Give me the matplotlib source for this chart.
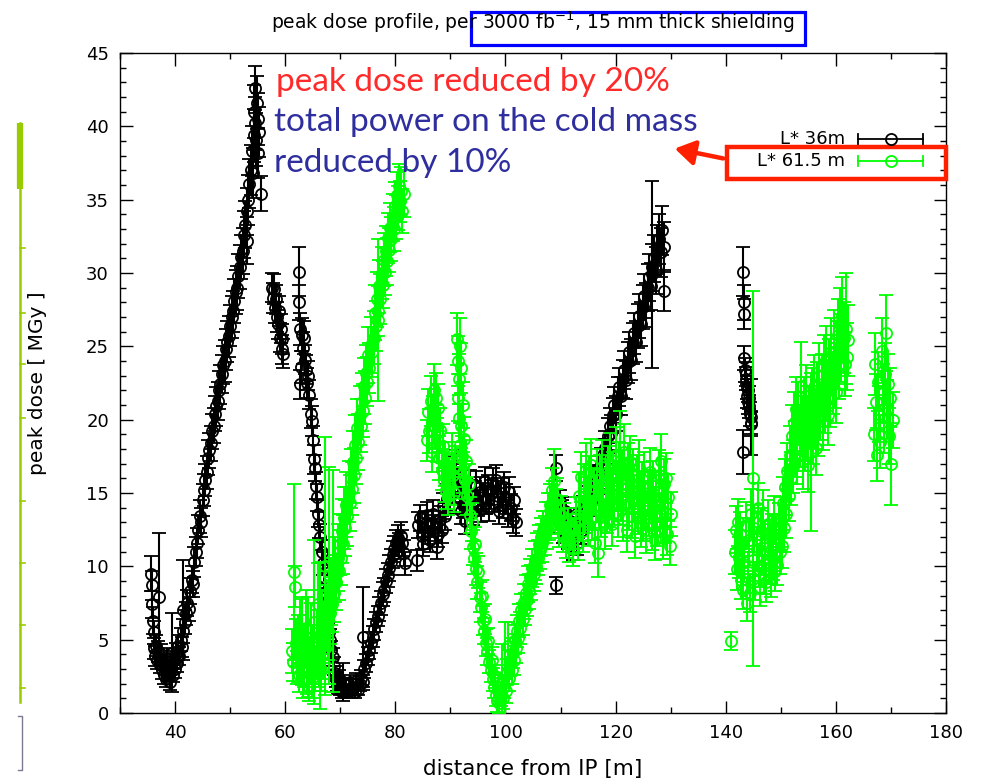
import numpy as np
import matplotlib
matplotlib.use("Agg")
import matplotlib.pyplot as plt
from matplotlib.patches import Rectangle, FancyArrowPatch

# peak dose values: (distance [m], dose [MGy], error)
l36_data = [
    # first rise to the triplet peak
    (35.7, 9.5, 1.2), (35.8, 8.7, 1.0), (35.9, 7.4, 0.9), (36.0, 6.3, 0.9), (36.1, 5.5, 0.8),
    (36.2, 4.4, 0.7), (36.3, 3.9, 0.7), (36.5, 4.6, 0.7), (36.7, 3.6, 0.6), (36.9, 4.2, 0.7),
    (37.1, 7.9, 4.4), (37.2, 3.3, 0.6), (37.4, 4.0, 0.7), (37.6, 2.9, 0.6), (37.8, 3.5, 0.6),
    (38.0, 2.6, 0.6), (38.2, 3.2, 0.6), (38.4, 2.3, 0.5), (38.6, 3.7, 0.7), (38.8, 2.8, 0.6),
    (39.0, 2.1, 0.5), (39.2, 3.3, 0.6), (39.4, 4.1, 2.7), (39.6, 2.6, 0.5), (39.8, 3.6, 0.6),
    (40.0, 3.0, 0.6), (40.2, 4.1, 0.7), (40.4, 3.4, 0.6), (40.6, 4.6, 0.7), (40.8, 3.9, 0.6),
    (41.0, 5.0, 0.8), (41.2, 4.5, 0.7), (41.4, 7.0, 3.4), (41.5, 5.6, 0.8), (41.75, 6.2, 0.8),
    (42.0, 6.8, 0.8), (42.25, 7.5, 0.9), (42.5, 7.1, 0.8), (42.75, 8.3, 0.9), (43.0, 9.1, 0.9),
    (43.25, 8.8, 0.9), (43.5, 10.3, 1.0), (43.75, 11.0, 1.0), (44.0, 11.6, 1.0), (44.25, 12.5, 1.0),
    (44.5, 13.4, 1.1), (44.75, 13.0, 1.0), (45.0, 14.5, 1.1), (45.25, 15.2, 1.1), (45.5, 15.9, 1.1),
    (45.75, 16.4, 1.1), (46.0, 17.4, 1.2), (46.25, 17.9, 1.2), (46.5, 18.4, 1.2), (46.75, 19.2, 1.2),
    (47.0, 19.6, 1.2), (47.25, 20.4, 1.2), (47.5, 20.9, 1.3), (47.75, 21.3, 1.3), (48.0, 22.0, 1.3),
    (48.25, 22.4, 1.3), (48.5, 23.1, 1.3), (48.75, 23.7, 1.3), (49.0, 24.0, 1.4), (49.25, 24.8, 1.4),
    (49.5, 25.3, 1.4), (49.75, 25.7, 1.4), (50.0, 26.4, 1.4), (50.25, 27.0, 1.4), (50.5, 27.4, 1.4),
    (50.75, 28.1, 1.5), (51.0, 28.7, 1.5), (51.25, 29.0, 1.5), (51.5, 29.8, 1.5), (51.75, 30.4, 1.5),
    (52.0, 31.1, 1.5), (52.25, 31.5, 1.6), (52.5, 32.6, 1.6), (52.75, 33.3, 1.6), (53.0, 32.2, 1.6),
    (53.0, 34.2, 1.6), (53.25, 35.0, 1.7), (53.5, 36.1, 1.7), (53.75, 37.0, 1.7), (54.0, 38.3, 1.7),
    (54.1, 36.8, 1.7), (54.25, 39.4, 1.8), (54.4, 41.0, 1.8), (54.5, 40.2, 1.8), (54.6, 42.6, 1.5),
    (54.75, 39.1, 1.8), (54.9, 41.6, 1.8), (55.0, 38.2, 1.7), (55.1, 40.5, 1.8), (55.25, 39.6, 1.7),
    (55.6, 35.4, 1.2),
    # short piece after the first gap
    (57.6, 29.0, 1.0), (57.8, 28.3, 1.0), (58.0, 28.9, 1.0), (58.1, 27.6, 1.0), (58.3, 28.2, 1.0),
    (58.5, 27.0, 1.0), (58.7, 26.5, 1.0), (58.9, 27.4, 1.0), (59.0, 25.6, 1.0), (59.2, 26.2, 1.0),
    (59.4, 24.8, 1.0), (59.5, 25.5, 1.0), (59.6, 24.5, 1.0),
    # falling edge
    (62.5, 30.1, 1.7), (62.5, 28.0, 1.2), (62.6, 26.2, 1.1), (62.8, 23.6, 1.1), (62.7, 22.4, 1.0),
    (63.0, 25.8, 1.1), (63.2, 24.9, 1.1), (63.4, 25.6, 1.1), (63.6, 24.1, 1.0), (63.8, 23.4, 1.0),
    (64.0, 22.5, 1.0), (64.2, 23.0, 1.0), (64.4, 21.7, 1.0), (64.6, 20.4, 1.0), (64.8, 19.9, 1.0),
    (65.0, 18.6, 1.0), (65.2, 17.3, 1.0), (65.4, 16.7, 0.9), (65.6, 15.5, 0.9), (65.8, 14.7, 0.9),
    (66.0, 13.6, 0.9), (66.2, 12.8, 0.9), (66.4, 12.0, 0.9), (66.6, 11.0, 0.8), (66.8, 10.2, 0.8),
    (67.0, 9.3, 0.8), (67.2, 8.6, 0.8), (67.4, 7.6, 0.8), (67.6, 7.0, 0.7), (67.8, 6.2, 0.7),
    (68.0, 5.5, 0.7), (68.2, 5.0, 0.7), (68.4, 4.3, 0.6), (68.6, 3.8, 0.6), (68.8, 3.2, 0.6),
    (69.0, 2.7, 0.5), (69.2, 2.3, 0.5), (69.4, 2.0, 0.5), (69.6, 1.8, 0.5), (69.8, 2.4, 0.5),
    (70.0, 1.6, 0.4), (70.3, 1.4, 0.4), (70.5, 2.1, 1.3), (70.8, 1.5, 0.4), (71.1, 1.9, 0.5),
    (71.4, 1.4, 0.4), (71.7, 2.1, 0.5), (72.0, 1.6, 0.4), (72.3, 1.8, 0.5), (72.6, 1.4, 0.4),
    (72.9, 2.2, 0.5), (73.2, 1.6, 0.4), (73.5, 2.0, 0.5), (74.1, 5.2, 3.4),
    # second rise
    (73.8, 2.4, 0.5), (74.1, 2.1, 0.5), (74.4, 3.0, 0.6), (74.7, 3.4, 0.6), (75.0, 3.9, 0.6),
    (75.3, 4.3, 0.6), (75.6, 4.8, 0.7), (75.9, 5.2, 0.7), (76.2, 5.7, 0.7), (76.5, 6.2, 0.7),
    (76.8, 6.6, 0.7), (77.1, 7.1, 0.8), (77.4, 7.5, 0.8), (77.7, 8.1, 0.8), (78.0, 8.4, 0.8),
    (78.3, 9.0, 0.8), (78.6, 9.4, 0.8), (78.9, 9.9, 0.9), (79.2, 10.3, 0.9), (79.5, 10.8, 0.9),
    (79.8, 11.2, 0.9), (80.1, 11.6, 0.9), (80.4, 11.9, 0.9), (80.7, 11.4, 0.9), (81.0, 12.1, 0.9),
    (81.3, 11.6, 0.9), (81.6, 10.9, 0.9), (81.8, 10.2, 0.8),
    # plateau around the corrector region
    (84.0, 10.4, 0.7), (84.2, 12.8, 0.9), (84.5, 13.3, 0.9), (84.8, 12.1, 0.9), (85.1, 11.5, 0.8),
    (85.4, 12.9, 0.9), (85.7, 13.5, 0.9), (86.0, 12.4, 0.9), (86.3, 11.8, 0.8), (86.6, 12.9, 0.9),
    (86.9, 13.6, 0.9), (87.2, 12.6, 0.9), (87.5, 11.3, 0.8), (87.8, 12.2, 0.9), (88.1, 13.2, 0.9),
    (88.4, 12.5, 0.9), (88.7, 14.1, 0.9), (89.0, 13.4, 0.9), (89.3, 14.6, 1.0), (89.6, 15.3, 1.0),
    (89.9, 14.8, 1.0), (90.2, 16.0, 1.0), (90.5, 16.5, 1.0), (90.8, 15.4, 1.0), (91.1, 16.9, 1.0),
    (91.4, 15.8, 1.0), (91.7, 14.6, 1.0), (92.0, 13.8, 0.9),
    (92.3, 14.2, 0.9), (92.6, 13.1, 0.9), (92.9, 15.0, 1.0), (93.2, 14.4, 0.9), (93.5, 15.6, 1.0),
    (93.8, 14.9, 1.0), (94.1, 13.7, 0.9), (94.4, 14.8, 1.0), (94.7, 15.5, 1.0), (95.0, 14.3, 0.9),
    (95.3, 15.1, 1.0), (95.6, 13.9, 0.9), (95.9, 14.7, 1.0), (96.2, 15.8, 1.0), (96.5, 14.5, 0.9),
    (96.8, 15.2, 1.0), (97.1, 14.0, 0.9), (97.4, 14.9, 1.0), (97.7, 15.7, 1.0), (98.0, 14.6, 0.9),
    (98.3, 15.9, 1.0), (98.6, 14.8, 1.0), (98.9, 13.8, 0.9), (99.2, 15.0, 1.0), (99.5, 14.2, 0.9),
    (99.8, 15.4, 1.0), (100.1, 14.6, 1.0), (100.4, 13.6, 0.9), (100.7, 15.1, 1.0), (101.0, 14.0, 0.9),
    (101.3, 13.2, 0.9), (101.6, 14.5, 0.9), (101.9, 13.0, 0.9),
    (109.1, 16.7, 0.9), (109.1, 8.7, 0.6),
    (109.6, 13.2, 0.9), (109.9, 14.3, 0.9), (110.2, 13.6, 0.9), (110.5, 12.5, 0.9), (110.8, 13.8, 0.9),
    (111.1, 12.9, 0.9), (111.4, 12.0, 0.8), (111.7, 13.1, 0.9), (112.0, 11.8, 0.8), (112.3, 11.2, 0.8),
    (112.6, 12.3, 0.8), (112.9, 11.6, 0.8), (113.2, 12.8, 0.9),
    # rise towards the D1 end
    (113.5, 13.0, 0.9), (113.8, 12.4, 0.9), (114.1, 13.9, 0.9), (114.4, 13.2, 0.9), (114.7, 14.5, 1.0),
    (115.0, 13.8, 0.9), (115.3, 15.1, 1.0), (115.6, 14.4, 1.0), (115.9, 15.9, 1.0), (116.2, 15.2, 1.0),
    (116.5, 15.8, 1.0), (116.8, 16.4, 1.1), (117.1, 15.9, 1.0), (117.4, 17.0, 1.1), (117.7, 17.6, 1.1),
    (118.0, 18.1, 1.1), (118.3, 17.6, 1.1), (118.6, 18.9, 1.2), (118.9, 19.6, 1.2), (119.2, 19.1, 1.2),
    (119.5, 20.3, 1.2), (119.8, 21.0, 1.2), (120.1, 20.4, 1.2), (120.4, 21.6, 1.3), (120.7, 22.2, 1.3),
    (121.0, 21.6, 1.3), (121.3, 22.8, 1.3), (121.6, 23.4, 1.3), (121.9, 22.7, 1.3), (122.2, 23.9, 1.4),
    (122.5, 24.6, 1.4), (122.8, 24.1, 1.4), (123.1, 25.2, 1.4), (123.4, 25.9, 1.4), (123.7, 25.3, 1.4),
    (124.0, 26.4, 1.5), (124.3, 27.1, 1.5), (124.6, 26.5, 1.5), (124.9, 27.7, 1.5), (125.2, 28.4, 1.5),
    (125.5, 27.8, 1.5), (125.8, 29.0, 1.6), (126.1, 29.7, 1.6), (126.4, 29.1, 1.6), (126.6, 29.9, 6.4),
    (126.7, 30.4, 1.6), (127.0, 31.0, 1.6), (127.3, 30.2, 1.6), (127.6, 31.6, 1.7), (127.9, 32.3, 1.7),
    (128.2, 31.4, 1.7), (128.5, 32.9, 1.7), (128.7, 31.8, 1.7), (128.8, 28.8, 1.4),
    # isolated short piece
    (143.2, 30.1, 1.7), (143.3, 28.0, 1.2), (143.3, 27.2, 1.0), (143.4, 24.2, 0.8), (143.5, 23.4, 0.8),
    (143.6, 22.8, 0.8), (143.7, 23.1, 0.8), (143.8, 22.2, 0.8), (143.9, 21.6, 0.8), (144.0, 22.0, 0.8),
    (144.1, 21.2, 0.8), (144.2, 20.9, 0.8), (144.3, 21.5, 0.8), (144.4, 20.4, 0.8), (144.5, 19.8, 0.8),
    (144.6, 20.2, 2.6), (143.2, 17.8, 1.5), (144.6, 19.7, 0.8),
]

l615_data = [
    (61.2, 4.2, 1.5), (61.4, 3.5, 1.3), (61.6, 9.6, 6.0), (61.7, 8.6, 1.4), (61.9, 4.8, 1.6),
    (62.1, 3.1, 1.1), (62.3, 4.4, 2.3), (62.5, 2.6, 1.2), (62.7, 5.6, 2.2), (62.9, 3.4, 1.4),
    (63.1, 4.9, 3.0), (63.3, 2.2, 1.2), (63.5, 3.9, 2.1), (63.7, 5.8, 2.6), (63.9, 2.8, 1.5),
    (64.1, 4.5, 3.4), (64.3, 1.8, 1.0), (64.5, 3.6, 1.6), (64.7, 5.1, 2.4), (64.9, 2.4, 1.4),
    (65.1, 4.0, 2.0), (65.3, 6.2, 5.6), (65.5, 3.0, 1.5), (65.7, 4.7, 2.3), (65.9, 7.4, 2.8),
    (66.1, 3.5, 1.7), (66.3, 5.3, 5.0), (66.5, 2.9, 1.4), (66.7, 6.3, 2.1), (66.9, 4.1, 1.8),
    (67.1, 5.2, 1.8), (67.2, 10.0, 8.8), (67.3, 4.4, 1.6), (67.5, 6.5, 2.2), (67.7, 5.6, 2.0),
    (68.0, 9.4, 7.4), (68.1, 6.8, 2.1), (68.3, 8.3, 2.3), (68.5, 7.4, 1.9), (68.7, 9.0, 7.6),
    (68.9, 8.2, 2.0), (69.1, 9.8, 2.2), (69.3, 8.9, 1.9), (69.5, 10.6, 2.3), (69.7, 9.7, 2.0),
    (69.9, 11.5, 2.1), (70.1, 10.6, 1.9), (70.3, 12.4, 2.2), (70.5, 11.5, 2.0), (70.7, 13.3, 2.1),
    (70.9, 12.6, 1.9), (71.1, 14.2, 2.2), (71.3, 13.4, 2.0), (71.5, 15.1, 2.1), (71.7, 14.3, 1.9),
    (71.9, 16.0, 2.0), (72.1, 15.3, 1.8), (72.3, 17.1, 2.1), (72.5, 16.2, 1.9), (72.7, 18.3, 2.0),
    (72.9, 17.4, 1.8), (73.1, 19.4, 2.0), (73.3, 18.5, 1.9), (73.5, 20.3, 2.0), (73.7, 19.6, 1.8),
    (73.9, 21.2, 2.0), (74.1, 20.6, 1.8), (74.3, 22.3, 1.9), (74.5, 21.5, 1.8), (74.7, 23.2, 1.9),
    (74.9, 22.6, 1.7), (75.1, 24.4, 1.9), (75.3, 23.5, 1.7), (75.5, 25.1, 1.9), (75.7, 24.6, 1.7),
    (76.1, 25.6, 1.8), (76.3, 27.3, 1.9), (76.5, 26.4, 1.7), (76.7, 28.2, 1.9), (76.8, 26.8, 5.5),
    (76.9, 27.4, 1.7), (77.1, 29.1, 1.8), (77.3, 28.2, 1.7), (77.5, 30.0, 1.8), (77.7, 29.2, 1.6),
    (77.9, 30.9, 1.8), (78.1, 30.1, 1.6), (78.3, 31.5, 1.7), (78.5, 30.8, 1.6), (78.7, 32.4, 1.7),
    (78.9, 31.6, 1.5), (79.1, 33.1, 1.7), (79.3, 32.3, 1.5), (79.5, 33.8, 1.6), (79.7, 33.0, 1.5),
    (79.9, 34.6, 1.6), (80.1, 33.8, 1.5), (80.3, 35.3, 1.6), (80.5, 34.4, 1.5), (80.7, 35.9, 1.5),
    (80.9, 34.9, 1.4), (81.1, 35.6, 1.6), (81.3, 34.2, 1.5), (81.5, 35.4, 1.6),
    # middle section
    (85.8, 18.6, 1.4), (86.0, 20.5, 1.6), (86.2, 19.2, 1.5), (86.4, 21.3, 1.7), (86.6, 17.8, 1.4),
    (86.8, 20.0, 1.6), (87.0, 22.0, 1.8), (87.2, 19.5, 1.5), (87.4, 21.5, 1.7), (87.6, 18.6, 1.5),
    (87.8, 20.8, 1.6), (88.0, 17.4, 1.5), (88.2, 19.3, 1.5), (88.4, 16.6, 1.4), (88.6, 18.2, 1.5),
    (88.8, 15.8, 1.4), (89.0, 17.0, 1.5), (89.2, 15.2, 1.3), (89.4, 16.3, 1.4), (89.6, 14.8, 1.3),
    (89.8, 16.0, 1.4), (90.0, 15.5, 1.3), (90.2, 17.6, 1.5), (90.4, 16.2, 1.4), (90.6, 15.0, 1.3),
    (90.8, 16.8, 1.4), (91.2, 25.5, 1.8), (91.3, 24.0, 1.7), (91.4, 21.5, 1.6), (91.5, 20.1, 1.6),
    (91.6, 22.8, 1.7), (91.7, 18.3, 1.5), (91.8, 25.0, 1.9), (91.9, 19.6, 1.5), (92.0, 23.5, 1.7),
    (92.1, 17.5, 1.4), (92.2, 21.0, 1.6), (92.3, 16.4, 1.4), (92.5, 18.7, 1.5), (92.7, 15.9, 1.3),
    (92.9, 17.2, 1.4), (93.1, 14.8, 1.3), (93.3, 15.6, 1.4), (93.5, 13.5, 1.2), (93.7, 12.4, 1.2),
    (93.9, 13.0, 1.3), (94.1, 11.3, 1.2), (94.3, 10.6, 1.1), (94.5, 11.5, 1.2), (94.7, 9.8, 1.1),
    (94.9, 8.9, 1.1), (95.1, 9.6, 1.1), (95.3, 7.9, 1.0), (95.5, 7.2, 1.0), (95.7, 8.0, 1.1),
    (95.9, 6.3, 1.0), (96.1, 5.6, 0.9), (96.3, 6.4, 1.0), (96.5, 4.8, 0.9), (96.7, 4.2, 0.9),
    (96.9, 4.9, 0.9), (97.1, 3.5, 0.8), (97.3, 2.9, 0.8), (97.5, 3.6, 0.9), (97.7, 2.3, 0.8),
    (97.9, 1.8, 0.8), (98.1, 2.5, 0.8), (98.3, 1.2, 0.7), (98.5, 0.8, 0.7), (98.7, 1.6, 0.8),
    (98.9, 0.7, 0.7), (99.1, 1.3, 0.8), (99.3, 2.2, 2.5), (99.5, 1.0, 0.7), (99.7, 1.8, 0.8),
    (99.9, 2.6, 3.6), (100.1, 1.5, 0.8), (100.3, 2.8, 0.9), (100.5, 4.6, 1.6), (100.7, 2.4, 0.9),
    (100.9, 3.4, 0.9), (101.1, 2.9, 0.9), (101.3, 4.1, 1.0), (101.5, 3.6, 1.0), (101.7, 5.0, 1.0),
    (101.9, 4.4, 1.0), (102.1, 5.6, 1.1), (102.3, 5.1, 1.0), (102.5, 6.3, 1.1), (102.7, 5.8, 1.1),
    (102.9, 7.0, 1.1), (103.1, 6.4, 1.1), (103.3, 7.6, 1.2), (103.5, 7.1, 1.1), (103.7, 8.2, 1.2),
    (103.9, 7.7, 1.1), (104.1, 8.8, 1.2), (104.3, 8.3, 1.2), (104.5, 9.3, 1.2), (104.7, 8.9, 1.2),
    (104.9, 9.9, 1.3), (105.1, 9.5, 1.2), (105.3, 10.4, 1.3), (105.5, 10.0, 1.2), (105.7, 11.0, 1.3),
    (105.9, 10.6, 1.2), (106.1, 11.5, 1.3), (106.3, 11.1, 1.3), (106.5, 12.0, 1.3), (106.7, 11.6, 1.3),
    (106.9, 12.5, 1.3), (107.1, 12.1, 1.3), (107.3, 13.0, 1.4), (107.5, 12.5, 1.3), (107.7, 13.6, 1.4),
    (107.9, 13.1, 1.3), (108.1, 14.2, 1.4), (108.3, 13.6, 1.4), (108.5, 15.2, 1.5), (108.7, 14.4, 1.4),
    (108.9, 15.8, 2.2), (109.1, 13.9, 1.4), (109.3, 14.6, 1.4), (109.5, 13.2, 1.3), (109.8, 12.6, 1.3),
    (110.1, 13.5, 1.3), (110.4, 12.2, 1.2), (110.7, 13.0, 1.3), (111.0, 11.8, 1.2), (111.3, 12.7, 1.3),
    (111.6, 11.5, 1.2), (111.9, 12.4, 1.2), (112.2, 11.2, 1.2), (112.5, 12.1, 1.2), (112.8, 13.4, 1.3),
    (113.1, 11.6, 1.2),
    (113.4, 14.8, 1.6), (113.6, 13.2, 1.5), (113.8, 16.1, 1.7), (114.0, 12.4, 1.4), (114.2, 15.4, 1.6),
    (114.4, 13.8, 1.5), (114.6, 16.6, 1.8), (114.8, 14.5, 1.6), (115.0, 12.9, 1.5), (115.2, 15.8, 1.7),
    (115.4, 14.0, 1.5), (115.6, 16.9, 1.8), (115.8, 13.3, 1.5), (116.0, 15.1, 1.6), (116.2, 11.6, 1.4),
    (116.4, 14.6, 1.6), (116.6, 16.3, 1.7), (116.8, 10.9, 1.6), (117.0, 14.2, 1.6), (117.2, 15.9, 1.7),
    (117.4, 13.5, 1.5), (117.6, 16.8, 1.8), (117.8, 14.8, 1.6), (118.0, 12.7, 1.5), (118.2, 15.6, 1.7),
    (118.4, 13.9, 1.6), (118.6, 16.4, 1.8), (118.8, 14.3, 1.6), (119.0, 17.3, 1.8), (119.2, 15.0, 1.7),
    (119.4, 12.9, 1.5), (119.6, 16.1, 1.7), (119.8, 14.4, 1.6), (120.0, 17.6, 1.9), (120.2, 15.5, 1.7),
    (120.4, 13.6, 1.6), (120.6, 16.7, 1.8), (120.8, 17.2, 3.4), (121.0, 14.7, 1.6), (121.2, 16.2, 1.7),
    (121.4, 13.2, 1.5), (121.6, 17.8, 1.9), (121.8, 15.3, 1.7), (122.0, 12.5, 1.5), (122.2, 16.6, 1.8),
    (122.4, 14.1, 1.6), (122.6, 17.1, 1.8), (122.8, 15.6, 1.7), (123.0, 13.4, 1.5), (123.2, 16.3, 1.7),
    (123.4, 14.6, 1.6), (123.6, 12.1, 1.5), (123.8, 15.9, 1.7), (124.0, 13.8, 1.6), (124.2, 16.8, 1.8),
    (124.4, 14.9, 1.6), (124.6, 12.8, 1.5), (124.8, 15.4, 1.7), (125.0, 13.2, 1.5), (125.2, 16.1, 1.7),
    (125.4, 14.2, 1.6), (125.6, 12.3, 1.4), (125.8, 15.0, 1.6), (126.0, 13.6, 1.5), (126.2, 16.4, 1.7),
    (126.4, 14.8, 1.6), (126.6, 12.6, 1.5), (126.8, 15.5, 1.7), (127.0, 13.9, 1.5), (127.2, 11.8, 1.4),
    (127.4, 14.6, 1.6), (127.6, 12.9, 1.5), (127.8, 16.2, 1.7), (128.0, 13.5, 1.5), (128.2, 17.2, 1.8),
    (128.4, 14.3, 1.6), (128.6, 11.9, 1.4), (128.8, 15.6, 1.7), (129.0, 13.1, 1.5), (129.2, 16.0, 1.7),
    (129.4, 12.2, 1.4), (129.6, 14.7, 1.6), (129.8, 11.4, 1.3), (130.0, 13.6, 1.5),
    # last section
    (141.0, 4.9, 0.6), (141.6, 11.0, 1.5), (141.8, 12.5, 1.6), (142.0, 9.8, 1.4), (142.2, 13.0, 1.6),
    (142.4, 10.6, 1.4), (142.6, 12.2, 1.5), (142.8, 9.1, 1.3), (143.0, 11.5, 1.5), (143.2, 8.4, 1.3),
    (143.4, 10.3, 1.4), (143.6, 12.8, 1.6), (143.8, 7.5, 1.2), (144.0, 9.6, 1.4), (144.2, 11.8, 1.5),
    (144.4, 8.2, 1.3), (144.6, 13.6, 1.7), (144.9, 16.0, 12.8), (145.0, 10.4, 1.4), (145.2, 12.6, 1.6),
    (145.4, 9.0, 1.3), (145.6, 11.2, 1.5), (145.8, 14.0, 1.7), (146.0, 10.0, 1.4), (146.2, 8.6, 1.3),
    (146.4, 12.4, 1.6), (146.6, 10.8, 1.4), (146.8, 13.5, 1.7), (147.0, 9.4, 1.3), (147.2, 11.6, 1.5),
    (147.4, 8.9, 1.3), (147.6, 12.9, 1.6), (147.8, 10.2, 1.4), (148.0, 11.4, 1.5), (148.2, 9.2, 1.3),
    (148.4, 12.1, 1.5), (148.6, 10.5, 1.4), (148.8, 13.2, 1.6), (149.0, 9.7, 1.4), (149.2, 11.9, 1.5),
    (149.4, 10.1, 1.4), (149.6, 12.7, 1.6), (149.8, 11.0, 1.5), (150.0, 13.0, 1.7), (150.2, 11.4, 1.5),
    (150.4, 14.3, 1.8), (150.6, 12.6, 1.6), (150.8, 15.4, 1.9), (151.0, 13.6, 1.7), (151.2, 16.5, 1.9),
    (151.4, 14.8, 1.7), (151.6, 17.6, 2.0), (151.8, 16.0, 1.8), (152.0, 18.9, 2.1), (152.2, 16.8, 1.8),
    (152.4, 19.8, 2.1), (152.6, 18.0, 1.9), (152.8, 20.7, 2.2), (153.0, 17.5, 1.9), (153.2, 20.5, 2.1),
    (153.4, 18.8, 2.0), (153.6, 22.3, 3.0), (153.8, 19.6, 2.0), (154.0, 17.2, 1.9), (154.2, 20.8, 2.1),
    (154.4, 18.4, 1.9), (154.6, 21.6, 2.1), (154.8, 19.2, 2.0), (155.0, 16.9, 1.8), (155.2, 20.3, 2.0),
    (155.4, 17.8, 5.4), (155.6, 21.4, 2.1), (155.8, 19.0, 2.0), (156.0, 22.2, 2.2), (156.2, 20.0, 2.0),
    (156.4, 18.1, 1.9), (156.6, 21.8, 2.1), (156.8, 19.5, 2.0), (157.0, 23.0, 2.2), (157.2, 20.6, 2.0),
    (157.4, 22.4, 2.1), (157.6, 19.9, 2.0), (157.8, 23.6, 2.2), (158.0, 21.2, 2.1), (158.2, 24.1, 2.3),
    (158.4, 22.0, 2.1), (158.6, 20.3, 2.0), (158.8, 23.3, 2.2), (159.0, 21.6, 2.1), (159.2, 24.6, 2.3),
    (159.4, 22.5, 2.1), (159.6, 25.2, 2.3), (159.8, 23.0, 2.2), (160.0, 21.9, 2.1), (160.2, 24.4, 2.3),
    (160.4, 25.8, 2.4), (160.6, 23.6, 2.2), (160.8, 26.5, 2.5), (161.0, 24.9, 2.3), (161.2, 27.1, 2.6),
    (161.4, 25.6, 2.4), (161.6, 23.8, 2.2), (161.8, 26.2, 3.8), (162.0, 24.3, 2.3), (162.2, 25.4, 2.4),
    (166.9, 19.0, 1.8), (167.1, 23.8, 2.1), (167.3, 21.2, 1.9), (167.5, 17.6, 1.8), (167.7, 22.6, 2.0),
    (167.9, 20.4, 1.9), (168.1, 18.5, 1.8), (168.3, 24.7, 2.2), (168.5, 21.8, 2.0), (168.7, 19.6, 1.9),
    (168.9, 23.1, 2.1), (169.1, 25.9, 2.6), (169.3, 20.7, 2.0), (169.5, 22.4, 2.1), (169.7, 18.9, 1.9),
    (169.9, 21.5, 2.0), (170.1, 17.0, 2.8), (170.3, 20.0, 1.9),
]

series_labels = ["L* 36m", "L* 61.5 m"]
series_colors = ["black", "#00ff00"]
x_ticks = [40, 60, 80, 100, 120, 140, 160, 180]
y_ticks = [0, 5, 10, 15, 20, 25, 30, 35, 40, 45]

l36_x, l36_y, l36_err = np.array(l36_data).T
l615_x, l615_y, l615_err = np.array(l615_data).T

fig = plt.figure(figsize=(9.84, 7.83), dpi=100)
ax = fig.add_axes([120 / 984, 70 / 783, 826 / 984, 660 / 783])

for (xs, ys, es), col, z in zip([(l36_x, l36_y, l36_err), (l615_x, l615_y, l615_err)],
                               series_colors, [2, 3]):
    ax.errorbar(xs, ys, yerr=es, fmt='o', mfc='none', mec=col, ecolor=col, ms=8, mew=1.3,
                elinewidth=1.5, capsize=5, capthick=1.5, zorder=z)

ax.set_xlim(30, 180)
ax.set_ylim(0, 45)
ax.set_xticks(x_ticks)
ax.set_yticks(y_ticks)
ax.set_xticks(np.arange(30, 181, 10), minor=True)
ax.set_yticks(np.arange(0, 46, 1), minor=True)
ax.tick_params(which='both', direction='in', top=True, right=True, width=1)
ax.tick_params(which='major', length=9, labelsize=13, pad=8)
ax.tick_params(which='minor', length=4)
ax.set_xlabel("distance from IP [m]", fontsize=15.5, labelpad=12)
for s in ax.spines.values():
    s.set_linewidth(1.0)

# overlay in pixel coordinates for slide decorations
ov = fig.add_axes([0, 0, 1, 1], zorder=10)
ov.set_xlim(0, 984)
ov.set_ylim(783, 0)
ov.axis('off')
ov.patch.set_alpha(0)

ov.text(533, 22, r"peak dose profile, per 3000 fb$^{-1}$, 15 mm thick shielding",
        ha='center', va='center', fontsize=13.5)
ov.add_patch(Rectangle((471, 12), 334, 33, fill=False, ec='#0000ff', lw=2.3))
ov.text(38, 383, "peak dose [ MGy ]", rotation=90, ha='center', va='center', fontsize=14.5)

ann_font = ['Lato', 'DejaVu Sans']
ov.text(276, 82, "peak dose reduced by 20%", color='#ff2a2a', fontsize=24,
        family=ann_font, va='center')
ov.text(274, 122, "total power on the cold mass", color='#2e2e9e', fontsize=24,
        family=ann_font, va='center')
ov.text(274, 163, "reduced by 10%", color='#2e2e9e', fontsize=24,
        family=ann_font, va='center')

# hand-made key, gnuplot style
for row_y, label, col in zip([139, 161], series_labels, series_colors):
    ov.text(845, row_y, label, ha='right', va='center', fontsize=13)
    ov.plot([858, 923], [row_y, row_y], color=col, lw=1.3)
    ov.plot([858, 858], [row_y - 5, row_y + 5], color=col, lw=1.3)
    ov.plot([923, 923], [row_y - 5, row_y + 5], color=col, lw=1.3)
    ov.plot([891], [row_y], 'o', mfc='none', mec=col, ms=8, mew=1.3)

ov.add_patch(Rectangle((727, 147), 219, 32, fill=False, ec='#ff2000', lw=3.2))
ov.add_artist(FancyArrowPatch((726, 159), (672, 148), arrowstyle='-|>,head_length=8,head_width=5',
                              color='#ff2000', lw=3.2, mutation_scale=1.5))

# leftover slide decoration at the left edge
green = '#99cc00'
ov.plot([20, 20], [123, 702], color=green, lw=1.8)
ov.plot([20, 20], [123, 189], color=green, lw=4.5, solid_capstyle='butt')
for ty in [248, 313, 364, 418, 501, 563, 625, 688]:
    ov.plot([20, 25], [ty, ty], color=green, lw=1.2)
ov.plot([18, 22, 22, 18], [716, 716, 770, 770], color='#7a7a90', lw=1.0)

fig.savefig("out.png", dpi=100)
